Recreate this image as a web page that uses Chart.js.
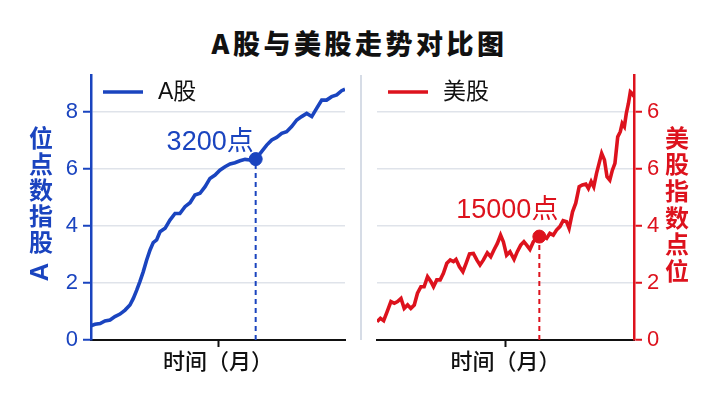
<!DOCTYPE html>
<html><head><meta charset="utf-8">
<script src="https://cdn.jsdelivr.net/npm/chart.js@4/dist/chart.umd.min.js"></script>
<style>
html,body{margin:0;padding:0;background:#fff;width:719px;height:404px;overflow:hidden;}
#title{position:absolute;left:0;top:24px;width:719px;text-align:center;font-weight:900;font-size:27px;font-family:"Noto Sans CJK SC","Liberation Sans",sans-serif;letter-spacing:3.5px;color:#111;line-height:38px;}
#divider{position:absolute;left:360px;top:75px;width:2px;height:265px;background:#d6dce6;}
#left{position:absolute;left:0;top:0;}
#right{position:absolute;left:360px;top:0;}
</style></head>
<body>
<div id="title">A股与美股走势对比图</div>
<div id="divider"></div>
<canvas id="left" width="360" height="404"></canvas>
<canvas id="right" width="359" height="404"></canvas>
<script>
// ---- data ----
const monthsA = [0,1.9,4.3,6.6,9.0,11.3,13.7,16.1,18.4,20.0,21.6,23.1,24.7,26.3,27.9,29.4,31.0,32.6,35.0,37.3,39.7,42.0,44.4,46.8,49.1,51.5,53.9,56.2,58.6,60.9,63.3,65.7,68.0,70.4,72.8,75.1,77.8,80.6,83.0,85.4,87.7,90.1,92.4,94.8,97.2,99.5,101.9,104.3,106.6,109.0,111.3,113.7,116.1,118.4,120];
const valuesA = [0.50,0.55,0.58,0.67,0.70,0.82,0.91,1.05,1.23,1.46,1.75,2.05,2.40,2.81,3.16,3.42,3.51,3.80,3.92,4.21,4.44,4.44,4.68,4.82,5.09,5.15,5.38,5.67,5.79,5.96,6.08,6.18,6.22,6.29,6.34,6.32,6.35,6.61,6.84,7.02,7.11,7.25,7.31,7.49,7.72,7.84,7.95,7.84,8.13,8.42,8.42,8.54,8.60,8.75,8.80];
const monthsB = [0,1.6,3.1,4.7,6.5,8.1,9.6,11.2,12.7,14.3,15.8,17.4,18.9,20.5,22.0,23.6,25.2,26.4,27.9,29.5,31.0,32.6,34.2,35.7,36.9,38.5,40.1,41.6,43.2,45.0,46.6,48.1,49.7,51.5,53.1,54.6,56.2,57.7,59.0,60.5,62.1,64.0,65.5,67.1,68.6,69.9,71.4,73.0,74.5,75.8,77.3,79.2,80.7,82.3,83.8,85.4,86.9,88.5,89.7,91.3,92.8,94.4,95.9,97.5,98.7,100.0,101.2,102.5,103.7,104.9,106.2,107.4,108.7,109.9,111.1,112.4,113.6,114.5,115.5,116.4,117.4,118.3,119.2,120];
const valuesB = [0.64,0.76,0.68,0.99,1.35,1.29,1.35,1.46,1.11,1.23,1.11,1.23,1.64,1.87,1.87,2.22,2.05,1.87,2.11,2.11,2.34,2.69,2.81,2.75,2.83,2.57,2.40,2.69,3.02,3.04,2.81,2.63,2.81,3.06,2.92,3.16,3.39,3.68,3.45,2.98,3.10,2.83,3.10,3.33,3.45,3.33,3.18,3.45,3.57,3.63,3.65,3.57,3.74,3.68,3.86,3.98,4.19,4.15,3.92,4.50,4.80,5.38,5.44,5.47,5.32,5.56,5.38,5.85,6.20,6.55,6.32,5.73,5.61,5.96,6.20,7.13,7.31,7.60,7.49,7.95,8.30,8.71,8.65,8.54];
const yTickValues = [0,2,4,6,8];
const tickLabelsA = ['0','2','4','6','8'];
const tickLabelsB = ['0','2','4','6','6'];
const xTickValues = [60];
const annotA = {month: 77.8, value: 6.35, label: '3200点'};
const annotB = {month: 75.8, value: 3.63, label: '15000点'};
const seriesNameA = 'A股';
const seriesNameB = '美股';
const yTitleA = 'A股指数点位';
const yTitleB = '美股指数点位';
const xTitle = '时间（月）';

const BLUE = '#1a44bf';
const RED = '#dd121d';
const FONT = '"Liberation Sans","Noto Sans CJK SC",sans-serif';

function zip(xs, ys){ return xs.map((x,i)=>({x:x, y:ys[i]})); }

const annotPlugin = {
  id: 'annotText',
  afterDatasetsDraw(chart, args, o){
    const ctx = chart.ctx;
    const xs = chart.scales.x, ys = chart.scales.y;
    const px = xs.getPixelForValue(o.annot.month), py = ys.getPixelForValue(o.annot.value);
    ctx.save();
    ctx.font = '27px ' + FONT;
    ctx.fillStyle = o.color;
    ctx.textAlign = o.align;
    ctx.textBaseline = 'alphabetic';
    ctx.fillText(o.annot.label, px + o.dx, py + o.dy);
    ctx.restore();
  }
};

// legend drawn inside the chart area, from the first dataset
const legendPlugin = {
  id: 'innerLegend',
  afterDraw(chart, args, o){
    const ctx = chart.ctx;
    const ds = chart.data.datasets[0];
    const a = chart.chartArea;
    const x0 = a.left + o.offsetX, y0 = a.top + o.offsetY;
    ctx.save();
    ctx.strokeStyle = ds.borderColor;
    ctx.lineWidth = 3.5;
    ctx.beginPath();
    ctx.moveTo(x0, y0);
    ctx.lineTo(x0 + 40, y0);
    ctx.stroke();
    ctx.font = '23px ' + FONT;
    ctx.fillStyle = '#111';
    ctx.textAlign = 'left';
    ctx.textBaseline = 'middle';
    ctx.fillText(ds.label, x0 + 55, y0 + 1);
    ctx.restore();
  }
};

const yTitlePlugin = {
  id: 'yTitleStack',
  afterDraw(chart, args, o){
    const ctx = chart.ctx;
    ctx.save();
    ctx.font = 'bold 24px ' + FONT;
    ctx.fillStyle = o.color;
    ctx.textAlign = 'center';
    ctx.textBaseline = 'middle';
    const chars = Array.from(o.text);
    chars.forEach((ch, i) => {
      const y = o.reverse ? o.startY - i * o.step : o.startY + i * o.step;
      if (/[A-Za-z]/.test(ch)) {
        ctx.save();
        ctx.font = 'bold 26px ' + FONT;
        ctx.translate(o.x, y + (o.reverse ? 2 : 0));
        ctx.rotate(-Math.PI/2);
        ctx.fillText(ch, 0, 0);
        ctx.restore();
      } else {
        ctx.fillText(ch, o.x, y);
      }
    });
    ctx.restore();
  }
};

function makeChart(id, cfg){
  return new Chart(document.getElementById(id), {
    type: 'line',
    data: {
      datasets: [
        {label: cfg.name, data: zip(cfg.months, cfg.values), borderColor: cfg.color, backgroundColor: cfg.color, borderWidth: 3.6, pointRadius: 0, tension: 0},
        {label: 'guide', data: [{x: cfg.annot.month, y: 0}, {x: cfg.annot.month, y: cfg.annot.value}], borderColor: cfg.color, borderWidth: 2, borderDash: [5,4], pointRadius: 0},
        {label: 'mark', data: [{x: cfg.annot.month, y: cfg.annot.value}], showLine: false, pointRadius: 6.5, pointBackgroundColor: cfg.color, pointBorderColor: cfg.color}
      ]
    },
    options: {
      responsive: false,
      animation: false,
      layout: {padding: cfg.padding},
      scales: {
        x: {
          type: 'linear', min: 0, max: 120,
          afterBuildTicks: s => { s.ticks = xTickValues.map(v => ({value: v})); },
          afterFit: s => { s.height = 64; },
          ticks: {callback: () => '', font: {size: 10}},
          grid: {drawOnChartArea: false, drawTicks: true, tickLength: 7, tickColor: '#111', tickWidth: 2},
          border: {color: '#111', width: 2},
          title: {display: true, text: xTitle, color: '#111', font: {family: FONT, size: 22, weight: '500'}, padding: {top: 0, bottom: 28}}
        },
        y: {
          position: cfg.yPos, min: 0, max: 9.3,
          afterBuildTicks: s => { s.ticks = yTickValues.map(v => ({value: v})); },
          afterFit: s => { s.width = cfg.yWidth; },
          ticks: {callback: (v, i) => cfg.tickLabels[i], color: cfg.color, padding: 5, font: {family: FONT, size: 22}},
          grid: {color: '#dfe3ea', lineWidth: 1.5, tickColor: cfg.color, tickLength: 8, tickWidth: 2},
          border: {color: cfg.color, width: 2.5}
        }
      },
      plugins: {
        legend: {display: false},
        tooltip: {enabled: false},
        innerLegend: {offsetX: cfg.legendDx, offsetY: 17},
        annotText: {annot: cfg.annot, color: cfg.color, align: cfg.labelAlign, dx: cfg.labelDx, dy: cfg.labelDy},
        yTitleStack: cfg.yTitle
      }
    },
    plugins: [annotPlugin, legendPlugin, yTitlePlugin]
  });
}

makeChart('left', {
  name: seriesNameA, months: monthsA, values: valuesA, color: BLUE, annot: annotA,
  padding: {left: 0, right: 15, top: 75, bottom: 0}, yPos: 'left', yWidth: 91,
  tickLabels: tickLabelsA, labelAlign: 'right', labelDx: -2, labelDy: -9, legendDx: 12,
  yTitle: {text: yTitleA, color: BLUE, x: 41, startY: 270, step: 26, reverse: true}
});
makeChart('right', {
  name: seriesNameB, months: monthsB, values: valuesB, color: RED, annot: annotB,
  padding: {left: 17, right: 0, top: 75, bottom: 0}, yPos: 'right', yWidth: 85,
  tickLabels: tickLabelsB, labelAlign: 'center', labelDx: -32, labelDy: -19, legendDx: 11,
  yTitle: {text: yTitleB, color: RED, x: 317, startY: 140, step: 26.7, reverse: false}
});
</script>
</body></html>
